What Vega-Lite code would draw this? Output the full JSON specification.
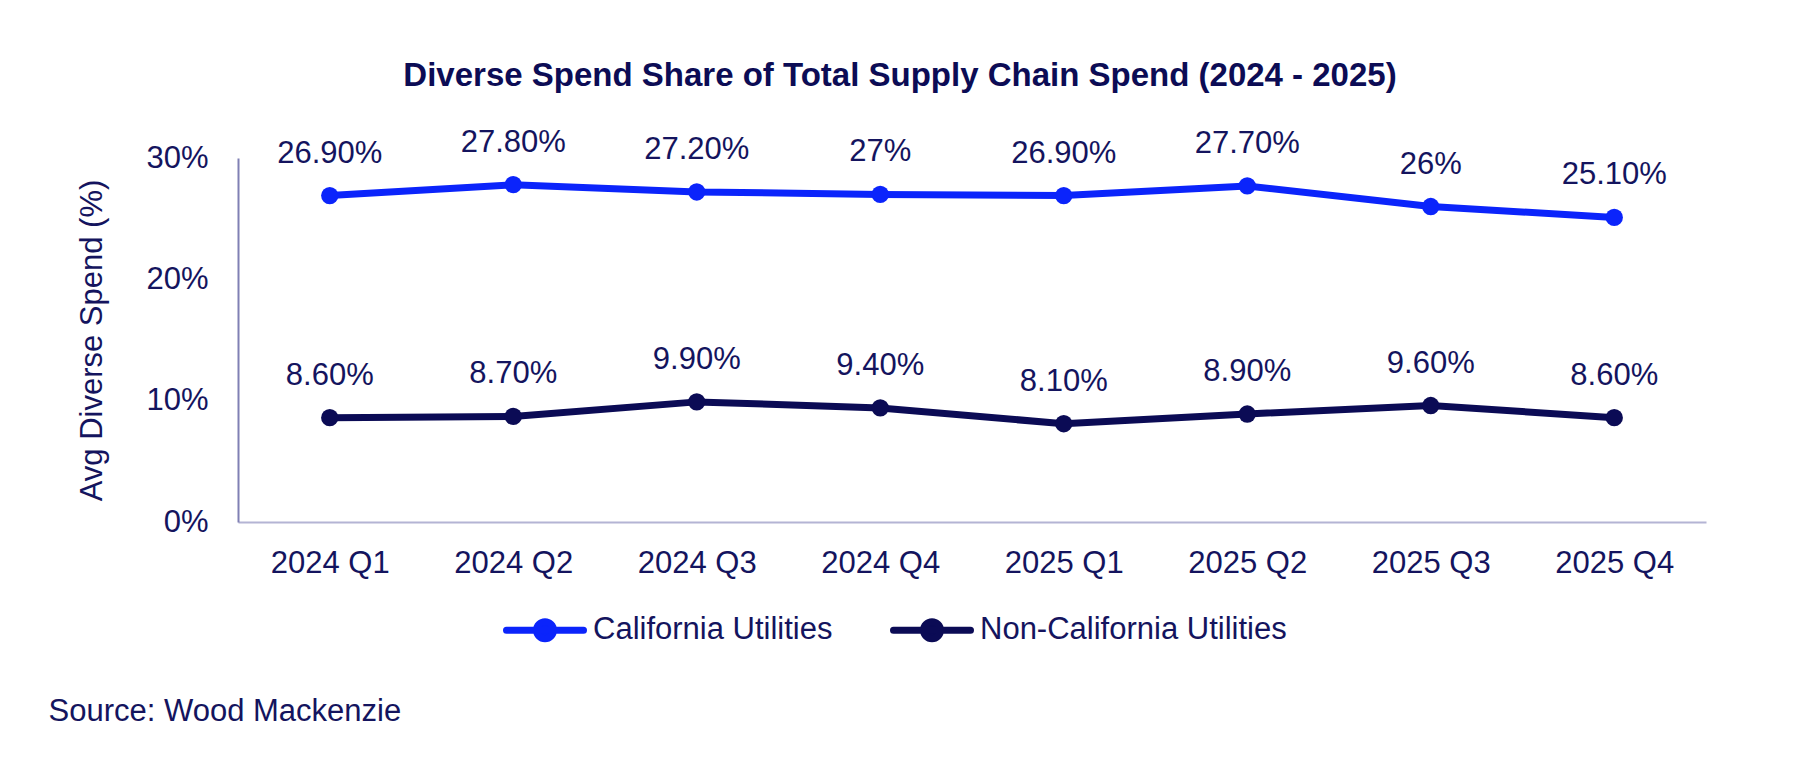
{
  "$schema": "https://vega.github.io/schema/vega-lite/v6.json",
  "description": "Diverse spend share of total supply chain spend, California vs non-California utilities.",
  "autosize": {"type": "none"},
  "padding": {"left": 238, "top": 158, "right": 94, "bottom": 246},
  "width": 1468,
  "height": 364,
  "background": "white",
  "config": {
    "font": "Liberation Sans",
    "view": {"stroke": null}
  },
  "title": {
    "text": "Diverse Spend Share of Total Supply Chain Spend (2024 - 2025)",
    "frame": "group",
    "anchor": "middle",
    "dx": -72,
    "offset": 34,
    "fontSize": 33,
    "fontWeight": "bold",
    "font": "Liberation Sans",
    "color": "#0C0C55"
  },
  "data": {
    "values": [
      {"Quarter": "2024 Q1", "Group": "California Utilities", "Spend": 26.9, "Label": "26.90%"},
      {"Quarter": "2024 Q2", "Group": "California Utilities", "Spend": 27.8, "Label": "27.80%"},
      {"Quarter": "2024 Q3", "Group": "California Utilities", "Spend": 27.2, "Label": "27.20%"},
      {"Quarter": "2024 Q4", "Group": "California Utilities", "Spend": 27.0, "Label": "27%"},
      {"Quarter": "2025 Q1", "Group": "California Utilities", "Spend": 26.9, "Label": "26.90%"},
      {"Quarter": "2025 Q2", "Group": "California Utilities", "Spend": 27.7, "Label": "27.70%"},
      {"Quarter": "2025 Q3", "Group": "California Utilities", "Spend": 26.0, "Label": "26%"},
      {"Quarter": "2025 Q4", "Group": "California Utilities", "Spend": 25.1, "Label": "25.10%"},
      {"Quarter": "2024 Q1", "Group": "Non-California Utilities", "Spend": 8.6, "Label": "8.60%"},
      {"Quarter": "2024 Q2", "Group": "Non-California Utilities", "Spend": 8.7, "Label": "8.70%"},
      {"Quarter": "2024 Q3", "Group": "Non-California Utilities", "Spend": 9.9, "Label": "9.90%"},
      {"Quarter": "2024 Q4", "Group": "Non-California Utilities", "Spend": 9.4, "Label": "9.40%"},
      {"Quarter": "2025 Q1", "Group": "Non-California Utilities", "Spend": 8.1, "Label": "8.10%"},
      {"Quarter": "2025 Q2", "Group": "Non-California Utilities", "Spend": 8.9, "Label": "8.90%"},
      {"Quarter": "2025 Q3", "Group": "Non-California Utilities", "Spend": 9.6, "Label": "9.60%"},
      {"Quarter": "2025 Q4", "Group": "Non-California Utilities", "Spend": 8.6, "Label": "8.60%"}
    ]
  },
  "encoding": {
    "x": {
      "field": "Quarter",
      "type": "ordinal",
      "sort": null,
      "scale": {"type": "point", "padding": 0.5},
      "axis": {
        "title": "Source: Wood Mackenzie",
        "titleX": -190,
        "titleY": 189,
        "titleAlign": "left",
        "titleAnchor": null,
        "titleBaseline": "middle",
        "titleFontSize": 31,
        "titleFontWeight": "normal",
        "titleColor": "#14145E",
        "labelAngle": 0,
        "labelFontSize": 31,
        "labelColor": "#14145E",
        "labelPadding": 26,
        "ticks": false,
        "grid": false,
        "domainColor": "#B4B4D4",
        "domainWidth": 2
      }
    },
    "y": {
      "field": "Spend",
      "type": "quantitative",
      "scale": {"domain": [0, 30]},
      "axis": {
        "title": "Avg Diverse Spend (%)",
        "titleX": -146,
        "titleY": 182,
        "titleAngle": -90,
        "titleBaseline": "middle",
        "titleFontSize": 31,
        "titleFontWeight": "normal",
        "titleColor": "#14145E",
        "values": [0, 10, 20, 30],
        "labelExpr": "datum.value + '%'",
        "labelFontSize": 31,
        "labelColor": "#14145E",
        "labelPadding": 30,
        "ticks": false,
        "grid": false,
        "domainColor": "#8080B4",
        "domainWidth": 2
      }
    },
    "color": {
      "field": "Group",
      "type": "nominal",
      "scale": {
        "domain": ["California Utilities", "Non-California Utilities"],
        "range": ["#0B24FB", "#0B0B55"]
      },
      "legend": {
        "title": null,
        "orient": "none",
        "direction": "horizontal",
        "legendX": 265,
        "legendY": 430,
        "symbolType": "M-1,0H1M-0.22,0A0.22,0.22,0,1,1,0.22,0A0.22,0.22,0,1,1,-0.22,0Z",
        "symbolSize": 5929,
        "symbolStrokeWidth": 7,
        "labelFontSize": 31,
        "labelColor": "#14145E",
        "labelLimit": 500,
        "labelOffset": 6,
        "columnPadding": 46,
        "encode": {
          "symbols": {
            "update": {
              "fill": {"scale": "color", "field": "value"},
              "stroke": {"scale": "color", "field": "value"},
              "fillOpacity": {"value": 1},
              "strokeCap": {"value": "round"}
            }
          }
        }
      }
    }
  },
  "layer": [
    {
      "mark": {"type": "line", "strokeWidth": 7}
    },
    {
      "mark": {"type": "point", "filled": true, "opacity": 1, "size": 300}
    },
    {
      "mark": {
        "type": "text",
        "dy": -42,
        "fontSize": 31,
        "color": "#14145E"
      },
      "encoding": {
        "text": {"field": "Label"},
        "color": {"value": "#14145E"}
      }
    }
  ]
}
